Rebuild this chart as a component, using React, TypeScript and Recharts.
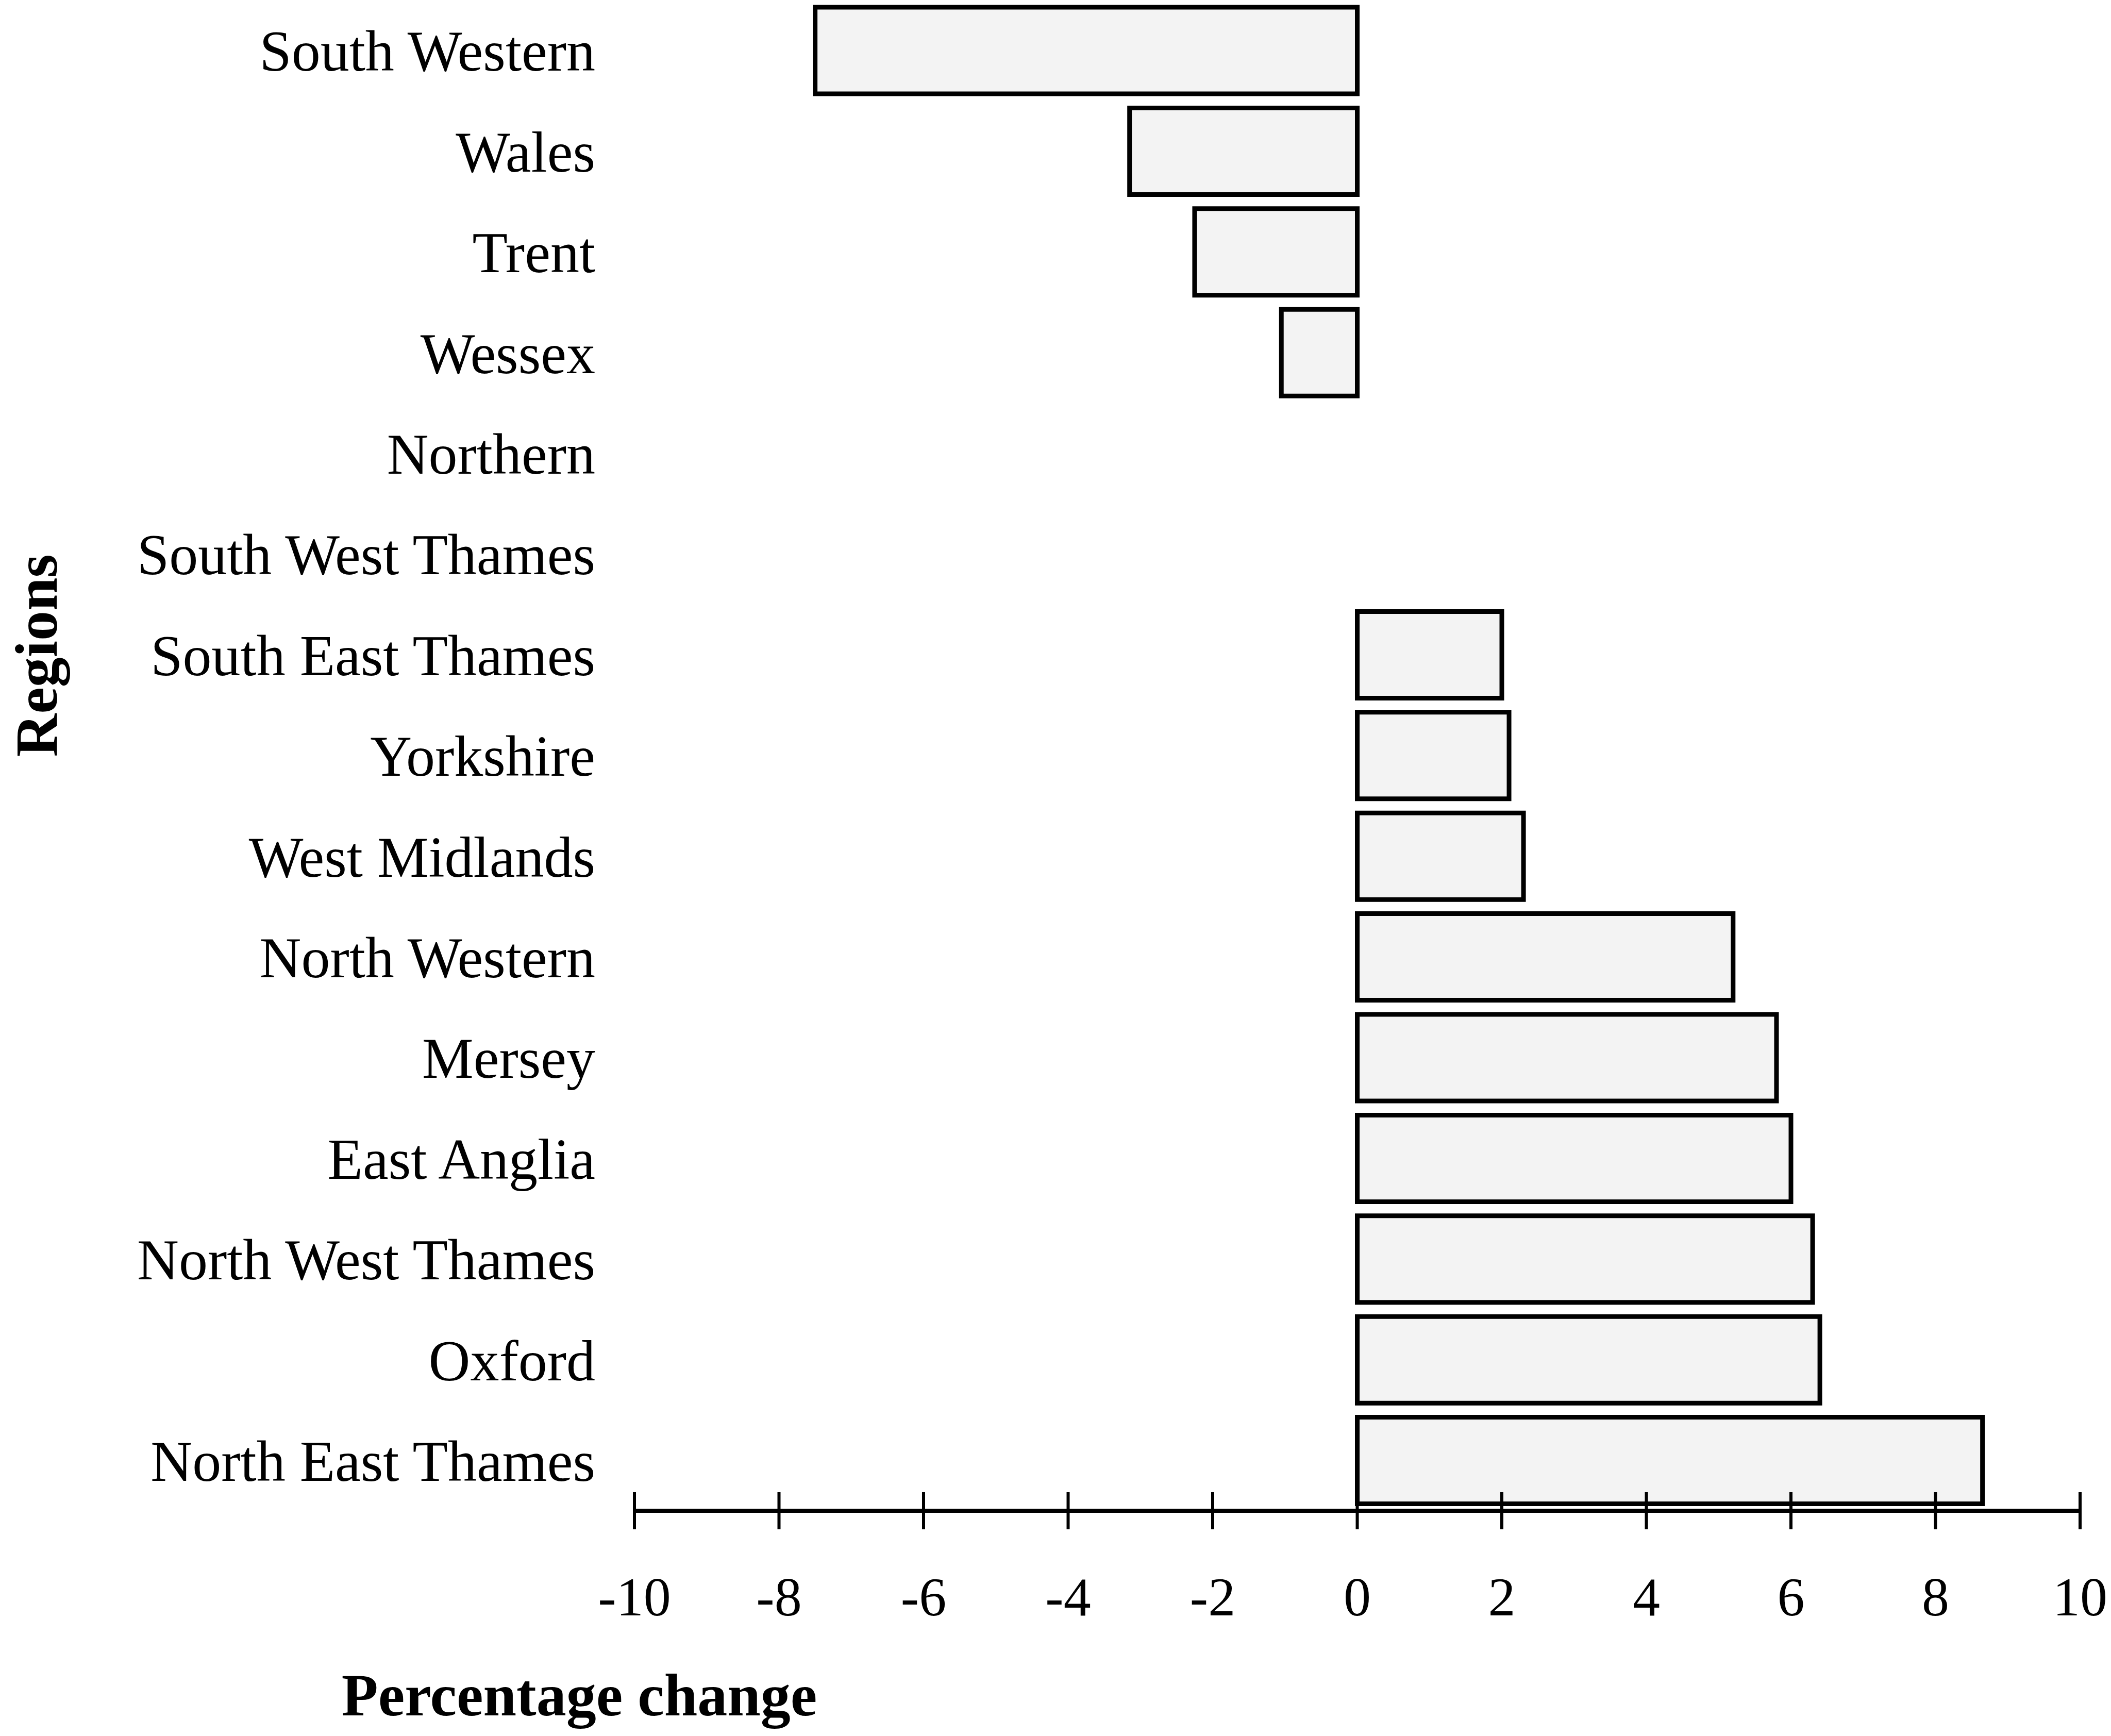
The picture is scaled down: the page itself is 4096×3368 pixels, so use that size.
import { BarChart, Bar, XAxis, YAxis } from 'recharts';

const regions = [
  'South Western',
  'Wales',
  'Trent',
  'Wessex',
  'Northern',
  'South West Thames',
  'South East Thames',
  'Yorkshire',
  'West Midlands',
  'North Western',
  'Mersey',
  'East Anglia',
  'North West Thames',
  'Oxford',
  'North East Thames',
];

const changes = [-7.5, -3.15, -2.25, -1.05, 0, 0, 2.0, 2.1, 2.3, 5.2, 5.8, 6.0, 6.3, 6.4, 8.65];

const xTicks = [-10, -8, -6, -4, -2, 0, 2, 4, 6, 8, 10];

const data = regions.map((region, i) => ({ region, change: changes[i] }));

const FONT = '"Liberation Serif", "Times New Roman", serif';

function XTick(props: any) {
  const { x, y, payload } = props;
  return (
    <g>
      <line x1={x} x2={x} y1={y - 36} y2={y + 36} stroke="#000" strokeWidth={6} />
      <text
        x={x}
        y={y + 166}
        dy="0.35em"
        textAnchor="middle"
        fontFamily={FONT}
        fontSize={106}
        fill="#000"
      >
        {payload.value}
      </text>
    </g>
  );
}

function XTitle(props: any) {
  const { viewBox } = props;
  return (
    <text
      x={viewBox.x - 107}
      y={viewBox.y + 356}
      dy="0.35em"
      textAnchor="middle"
      fontFamily={FONT}
      fontWeight="bold"
      fontSize={116}
      fill="#000"
    >
      Percentage change
    </text>
  );
}

function YTitle(props: any) {
  const { viewBox } = props;
  const cx = viewBox.x + 65;
  const cy = viewBox.y + 1272;
  return (
    <text
      x={cx}
      y={cy}
      dy="0.35em"
      textAnchor="middle"
      transform={`rotate(-90 ${cx} ${cy})`}
      fontFamily={FONT}
      fontWeight="bold"
      fontSize={116}
      fill="#000"
    >
      Regions
    </text>
  );
}

export default function App() {
  return (
    <div style={{ position: 'absolute', left: 0, top: 0, background: '#fff' }}>
      <BarChart
        width={4096}
        height={3368}
        data={data}
        layout="vertical"
        margin={{ top: 0, right: 60, bottom: 0, left: 4 }}
        barCategoryGap={0}
      >
        <XAxis
          type="number"
          domain={[-10, 10]}
          ticks={xTicks}
          interval={0}
          height={437}
          axisLine={{ stroke: '#000', strokeWidth: 8 }}
          tickLine={false}
          tickSize={0}
          tickMargin={0}
          tick={<XTick />}
          label={<XTitle />}
        />
        <YAxis
          type="category"
          dataKey="region"
          width={1227}
          axisLine={false}
          tickLine={false}
          tickSize={0}
          tickMargin={76}
          interval={0}
          tick={{ fontFamily: FONT, fontSize: 112, fill: '#000' }}
          label={<YTitle />}
        />
        <Bar
          dataKey="change"
          fill="#f3f3f3"
          stroke="#000"
          strokeWidth={9}
          barSize={168}
          isAnimationActive={false}
        />
      </BarChart>
    </div>
  );
}
